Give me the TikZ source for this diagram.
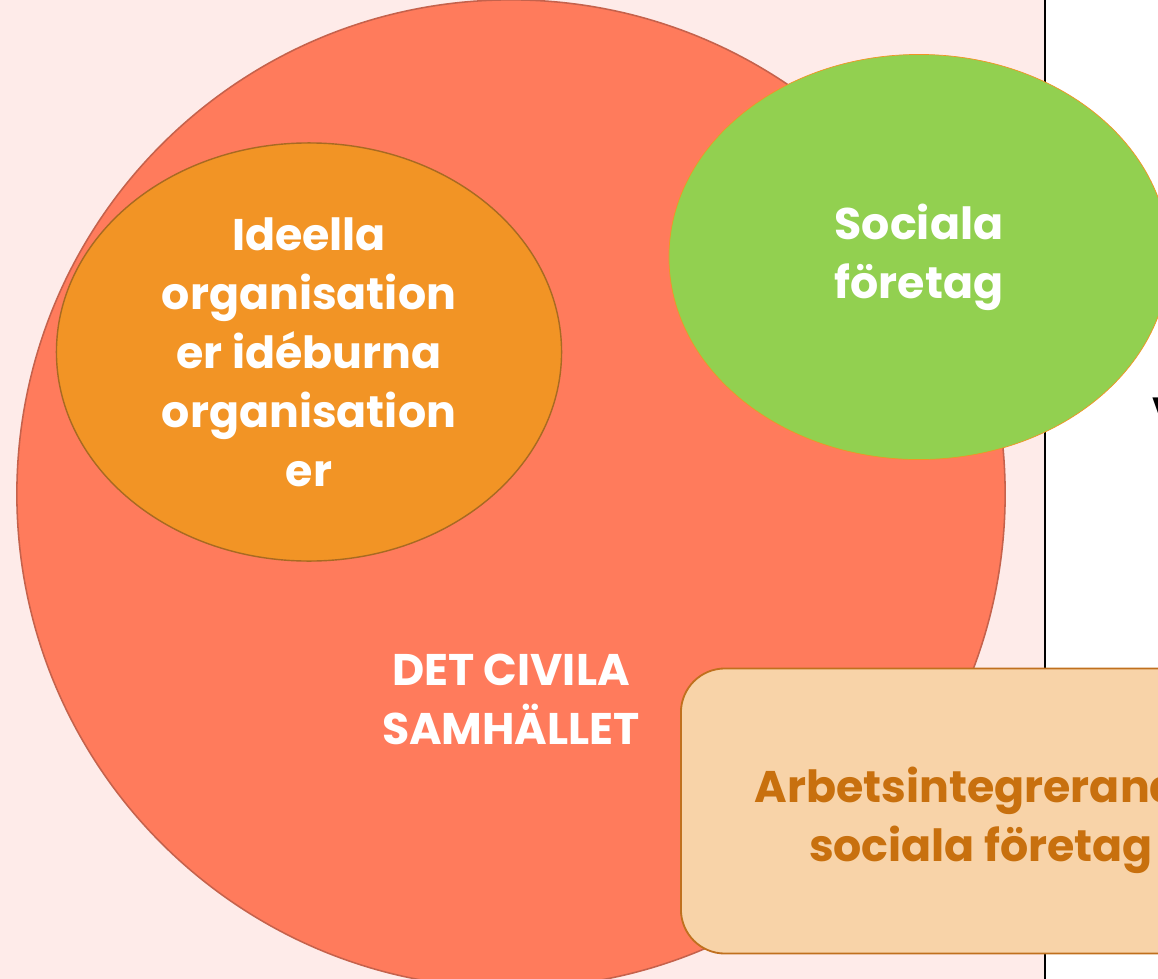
\documentclass[tikz,border=0pt]{standalone}
\usepackage{fontspec}
\setmainfont{Poppins}
\usetikzlibrary{shapes.geometric}
\definecolor{bgpink}{HTML}{FEEBE9}
\definecolor{coral}{HTML}{FF7B5C}
\definecolor{coraledge}{HTML}{C5624C}
\definecolor{orangefill}{HTML}{F29425}
\definecolor{orangeedge}{HTML}{A86A22}
\definecolor{greenfill}{HTML}{92D050}
\definecolor{greenedge}{HTML}{F29425}
\definecolor{boxfill}{HTML}{F8D3A8}
\definecolor{boxedge}{HTML}{C0701E}
\definecolor{boxtext}{HTML}{C8700E}

\begin{document}
\begin{tikzpicture}[x=0.025cm, y=-0.025cm,
    label/.style = {text=white, align=center, font=\fontsize{31.5}{42}\selectfont\bfseries},
    civil/.style = {draw=coraledge, fill=coral, circle, line width=1.1pt, inner sep=0pt, minimum size=24.7cm},
    blob/.style = {ellipse, inner sep=0pt, line width=1pt}]

	\useasboundingbox (0,0) rectangle (1158,979);
	\fill[bgpink] (0,0) rectangle (1045,979);

	\coordinate (lt) at (1045,0);
	\coordinate (lb) at (1045,979);
	\draw[line width=1.5pt] (lt) -- (lb);

	\node[civil] (cs) at (511,494) {};
	\node[label] (cstext) at (511,699) {DET CIVILA\\SAMHÄLLET};

	\node[blob, label, draw=orangeedge, fill=orangefill, minimum width=12.625cm, minimum height=10.45cm] (ideella) at (309,352)
		{Ideella\\organisation\\er idéburna\\organisation\\er};

	\node[blob, label, draw=greenedge, fill=greenfill, line width=0.5pt, minimum width=12.5cm, minimum height=10.125cm] (sf) at (919,257)
		{Sociala\\företag};

	\node[draw=boxedge, fill=boxfill, line width=1.3pt, rounded corners=1.1cm, minimum width=15cm, minimum height=7.125cm] (wise) at (981,811) {};
	\node[label, text=boxtext] (wisetext) at (981,820) {Arbetsintegrerande\\sociala företag};

	\node[anchor=north west, font=\fontsize{30}{36}\selectfont\bfseries, inner sep=0pt] (v) at (1152,398) {V};
\end{tikzpicture}
\end{document}
